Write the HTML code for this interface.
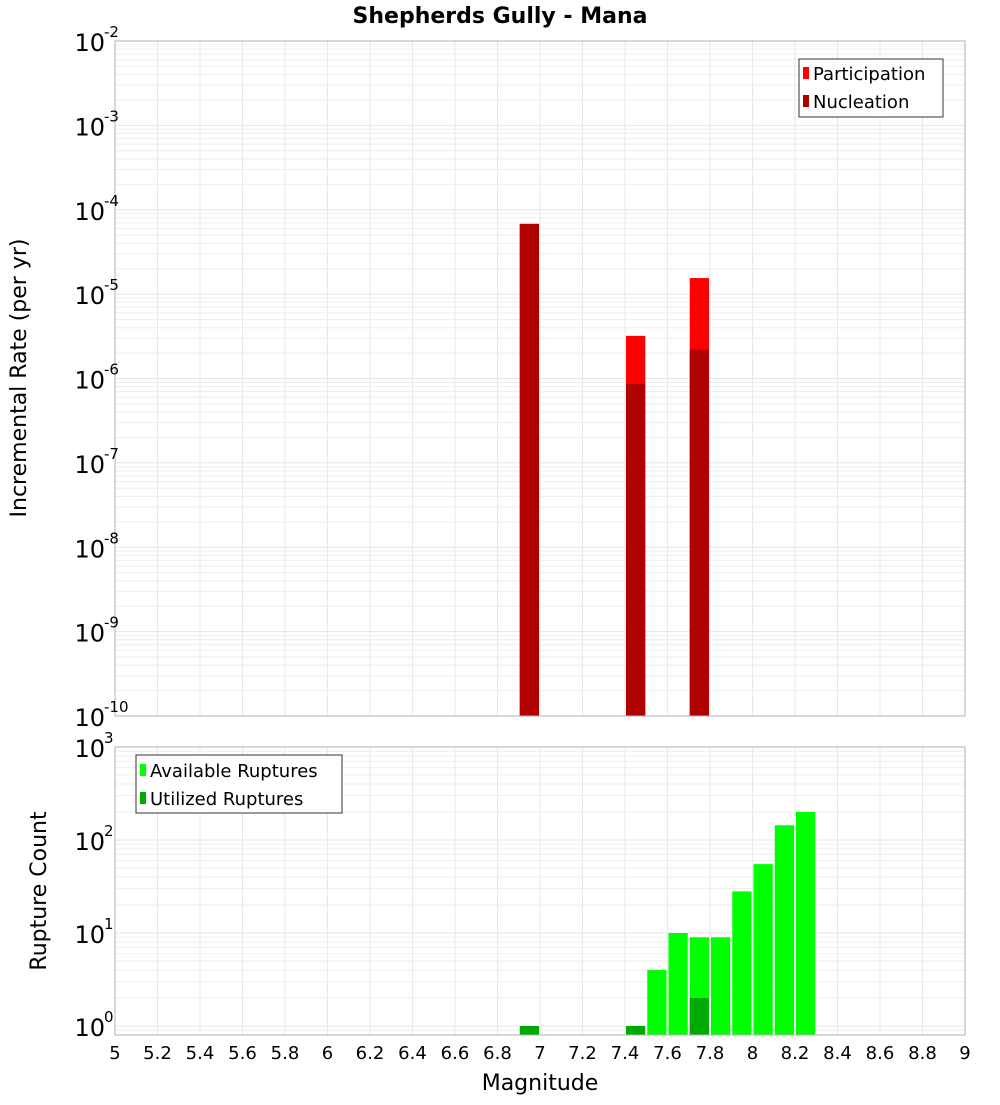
<!DOCTYPE html>
<html><head><meta charset="utf-8"><style>
body{margin:0;background:#fff;font-family:"Liberation Sans","DejaVu Sans",sans-serif}
svg text{font-family:"DejaVu Sans","Liberation Sans",sans-serif}
</style></head><body>
<svg id="c" width="1000" height="1100" xmlns="http://www.w3.org/2000/svg"></svg>
<script>
const topBins=[6.95,7.45,7.75];
const participation=[6.8e-5,3.2e-6,1.55e-5];
const nucleation=[6.8e-5,8.6e-7,2.2e-6];
const botBins=[6.95,7.45,7.55,7.65,7.75,7.85,7.95,8.05,8.15,8.25];
const available=[1,1,4,10,9,9,28,55,144,200];
const utilized=[1,1,0,0,2,0,0,0,0,0];
const xTicks=[5,5.2,5.4,5.6,5.8,6,6.2,6.4,6.6,6.8,7,7.2,7.4,7.6,7.8,8,8.2,8.4,8.6,8.8,9];
const topExp=[-2,-3,-4,-5,-6,-7,-8,-9,-10];
const botExp=[3,2,1,0];

const NS="http://www.w3.org/2000/svg",svg=document.getElementById('c');
function el(t,a,p){const e=document.createElementNS(NS,t);for(const k in a)e.setAttribute(k,a[k]);(p||svg).appendChild(e);return e;}
const X0=115,X1=965;
const x=m=>X0+(m-5)/4*(X1-X0);
const yTop=v=>41+(-2-Math.log10(v))*84.375;
const yBot=v=>1026-Math.log10(v)*93;

function grid(yf,lo,hi,yT,yB,name){
  const g=el('g',{});
  for(let d=lo;d<hi;d++)for(let k=1;k<10;k++){const yy=yf(k*Math.pow(10,d));if(yy<yT||yy>yB)continue;
    el('line',{x1:X0,x2:X1,y1:yy,y2:yy,stroke:k==1?'#e4e4e4':'#eeeeee','stroke-width':1},g);}
  xTicks.forEach(t=>el('line',{x1:x(t),x2:x(t),y1:yT,y2:yB,stroke:'#e8e8e8'},g));
}
// top panel
grid(yTop,-10,-2,41,716,'top-grid');
el('line',{x1:X0,x2:X1,y1:41,y2:41,stroke:'#e4e4e4'});
const bw=x(5.1)-x(5);
topBins.forEach((b,i)=>{
  let r=el('rect',{x:x(b)-bw/2+1,y:yTop(participation[i]),width:bw-2,height:716-yTop(participation[i]),fill:'#ff0000'});
  
  r=el('rect',{x:x(b)-bw/2+1,y:yTop(nucleation[i]),width:bw-2,height:716-yTop(nucleation[i]),fill:'#b00000'});
  
});
el('rect',{x:X0,y:41,width:X1-X0,height:675,fill:'none',stroke:'#b0b0b0'});
topExp.forEach(e=>{const yy=yTop(Math.pow(10,e));
  const t=el('text',{x:105,y:yy+10,'font-size':24,'text-anchor':'end'});t.textContent='10';
  
  const s=el('text',{x:104,y:yy-4,'font-size':15});s.textContent=e;
  });
// bottom panel
grid(yBot,-1,3,747,1035,'bottom-grid');
botBins.forEach((b,i)=>{
  let r=el('rect',{x:x(b)-bw/2+1,y:yBot(available[i]),width:bw-2,height:1035-yBot(available[i]),fill:utilized[i]>=available[i]?'#00aa00':'#00ff00'});
  
  if(utilized[i]>0&&utilized[i]<available[i]){
    r=el('rect',{x:x(b)-bw/2+1,y:yBot(utilized[i]),width:bw-2,height:1035-yBot(utilized[i]),fill:'#00aa00'});
    }
});
el('rect',{x:X0,y:747,width:X1-X0,height:288,fill:'none',stroke:'#b0b0b0'});
botExp.forEach(e=>{const yy=yBot(Math.pow(10,e));
  const t=el('text',{x:105,y:yy+10,'font-size':24,'text-anchor':'end'});t.textContent='10';
  
  const s=el('text',{x:104,y:yy-4,'font-size':15});s.textContent=e;
  });
xTicks.forEach(t=>{const tx=el('text',{x:x(t),y:1059,'font-size':18,'text-anchor':'middle'});tx.textContent=String(t);
  });
</script>
<svg style="position:absolute;left:0;top:0" width="1000" height="1100" xmlns="http://www.w3.org/2000/svg">
<text x="500" y="23" font-size="22" font-weight="bold" text-anchor="middle" font-family="DejaVu Sans">Shepherds Gully - Mana</text>
<text transform="translate(26,378) rotate(-90)" font-size="22" text-anchor="middle" font-family="DejaVu Sans">Incremental Rate (per yr)</text>
<text transform="translate(46,891) rotate(-90)" font-size="22" text-anchor="middle" font-family="DejaVu Sans">Rupture Count</text>
<text x="540" y="1090" font-size="22" text-anchor="middle" font-family="DejaVu Sans">Magnitude</text>
<g>
<rect x="799" y="59" width="144" height="58" fill="#fff" stroke="#333"/>
<rect x="803" y="67" width="6" height="12" fill="#ff0000"/>
<text x="813" y="80" font-size="18" font-family="DejaVu Sans">Participation</text>
<rect x="803" y="95" width="6" height="12" fill="#b00000"/>
<text x="813" y="108" font-size="18" font-family="DejaVu Sans">Nucleation</text>
</g>
<g>
<rect x="136" y="755" width="206" height="58" fill="#fff" stroke="#333"/>
<rect x="140" y="764" width="6" height="12" fill="#00ff00"/>
<text x="150" y="777" font-size="18" font-family="DejaVu Sans">Available Ruptures</text>
<rect x="140" y="792" width="6" height="12" fill="#00aa00"/>
<text x="150" y="805" font-size="18" font-family="DejaVu Sans">Utilized Ruptures</text>
</g>
</svg>
</body></html>
